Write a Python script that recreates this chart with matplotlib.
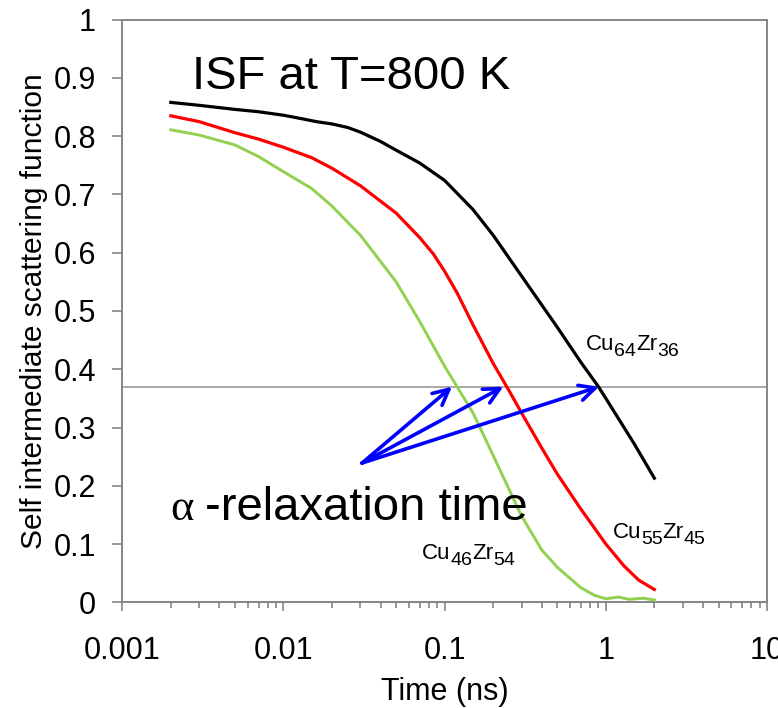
import matplotlib
matplotlib.use("Agg")
import matplotlib.pyplot as plt
from matplotlib.ticker import FixedLocator, FixedFormatter, LogLocator, NullFormatter

plt.rcParams['font.family'] = ['Liberation Sans', 'DejaVu Sans']

# Self intermediate scattering function at 800 K
t_cu64 = [0.002, 0.003, 0.005, 0.007, 0.01, 0.013, 0.016, 0.02, 0.025, 0.03, 0.04, 0.05, 0.07,
          0.1, 0.15, 0.2, 0.3, 0.5, 0.7, 0.9, 1.0, 1.5, 2.0]
f_cu64 = [0.858, 0.853, 0.846, 0.842, 0.836, 0.830, 0.825, 0.821, 0.815, 0.807, 0.791, 0.776, 0.754,
          0.724, 0.674, 0.630, 0.560, 0.472, 0.412, 0.370, 0.350, 0.272, 0.213]

t_cu55 = [0.002, 0.003, 0.005, 0.007, 0.01, 0.015, 0.02, 0.03, 0.05, 0.07, 0.085, 0.1, 0.12,
          0.15, 0.2, 0.25, 0.3, 0.4, 0.5, 0.7, 1.0, 1.3, 1.6, 2.0]
f_cu55 = [0.835, 0.825, 0.806, 0.795, 0.781, 0.763, 0.745, 0.715, 0.668, 0.626, 0.598, 0.568, 0.530,
          0.476, 0.410, 0.364, 0.325, 0.265, 0.220, 0.160, 0.100, 0.062, 0.038, 0.022]

t_cu46 = [0.002, 0.003, 0.005, 0.007, 0.01, 0.015, 0.02, 0.03, 0.05, 0.07, 0.1,
          0.15, 0.2, 0.3, 0.4, 0.5, 0.7, 0.85, 1.0, 1.2, 1.4, 1.7, 2.0]
f_cu46 = [0.811, 0.802, 0.785, 0.765, 0.739, 0.710, 0.680, 0.630, 0.550, 0.482, 0.405,
          0.325, 0.252, 0.148, 0.090, 0.060, 0.025, 0.012, 0.006, 0.009, 0.005, 0.007, 0.004]

# alpha-relaxation level and the crossing times
level = 0.37
tau_cu46, tau_cu55, tau_cu64 = 0.111, 0.231, 0.906
arrow_origin = (0.0307, 0.239)

x_ticks = [0.001, 0.01, 0.1, 1, 10]
x_ticklabels = ['0.001', '0.01', '0.1', '1', '10']
y_ticks = [0, 0.1, 0.2, 0.3, 0.4, 0.5, 0.6, 0.7, 0.8, 0.9, 1.0]
y_ticklabels = ['0', '0.1', '0.2', '0.3', '0.4', '0.5', '0.6', '0.7', '0.8', '0.9', '1']

GREY = '#868686'

fig = plt.figure(figsize=(7.78, 7.08), dpi=100)
ax = fig.add_axes([0.1572, 0.1493, 0.8287, 0.8229])
ax.set_xscale('log')
ax.set_xlim(1e-3, 10)
ax.set_ylim(0, 1)

ax.axhline(level, color='#9a9a9a', lw=1.2, zorder=1)

ax.plot(t_cu64, f_cu64, color='black', lw=2.3, zorder=3)
ax.plot(t_cu55, f_cu55, color='#ff0000', lw=2.3, zorder=3)
ax.plot(t_cu46, f_cu46, color='#92d050', lw=2.1, zorder=3)

for s in ax.spines.values():
    s.set_color(GREY)
    s.set_linewidth(1.4)

ax.xaxis.set_major_locator(FixedLocator(x_ticks))
ax.xaxis.set_major_formatter(FixedFormatter(x_ticklabels))
ax.xaxis.set_minor_locator(LogLocator(base=10, subs=range(2, 10), numticks=20))
ax.xaxis.set_minor_formatter(NullFormatter())
ax.yaxis.set_major_locator(FixedLocator(y_ticks))
ax.yaxis.set_major_formatter(FixedFormatter(y_ticklabels))

ax.tick_params(axis='x', which='major', direction='out', length=6.5, width=1.2,
               color=GREY, labelsize=22, pad=18)
ax.tick_params(axis='x', which='minor', direction='out', length=4.3, width=1.2, color=GREY)
ax.tick_params(axis='y', which='major', direction='out', length=7, width=1.2,
               color=GREY, labelsize=22, pad=12)
ax.tick_params(top=False, right=False, which='both')

ax.set_xlabel('Time (ns)', fontsize=22, labelpad=8)
ax.set_ylabel('Self intermediate scattering function', fontsize=21.5, labelpad=4)

ax.text(0.00271, 0.881, 'ISF at T=800 K', fontsize=34, va='baseline', ha='left')

ax.text(0.00198, 0.141, '\u03b1', fontsize=32, family=['Liberation Serif', 'DejaVu Serif'],
        va='baseline', ha='left')
ax.text(0.00327, 0.141, '-relaxation time', fontsize=34, va='baseline', ha='left')

for tau in (tau_cu46, tau_cu55, tau_cu64):
    ax.annotate('', xy=(tau, level), xytext=arrow_origin,
                arrowprops=dict(arrowstyle='->', color='#0000ff', lw=2.6,
                                mutation_scale=28, shrinkA=0, shrinkB=0),
                zorder=4)


def formula(x, y, parts, size_main=16, size_sub=14, drop=4.0):
    """Chemical formula with near full-size subscripts, drawn piece by piece."""
    k = 0.212  # font descent as a fraction of the em
    prev = ax.text(x, y, parts[0], fontsize=size_main, va='baseline', ha='left')
    for i, p in enumerate(parts[1:], 1):
        sub = (i % 2 == 1)
        if sub:
            dy = k * size_main - drop - k * size_sub
            fs = size_sub
        else:
            dy = -(k * size_main - drop - k * size_sub)
            fs = size_main
        prev = ax.annotate(p, xy=(1, 0), xycoords=prev, xytext=(0, dy),
                           textcoords='offset points', fontsize=fs,
                           va='bottom', ha='left')


formula(0.748, 0.433, ['Cu', '64', 'Zr', '36'])
formula(1.10, 0.110, ['Cu', '55', 'Zr', '45'])
formula(0.0727, 0.074, ['Cu', '46', 'Zr', '54'])

fig.savefig('out.png', dpi=100)
